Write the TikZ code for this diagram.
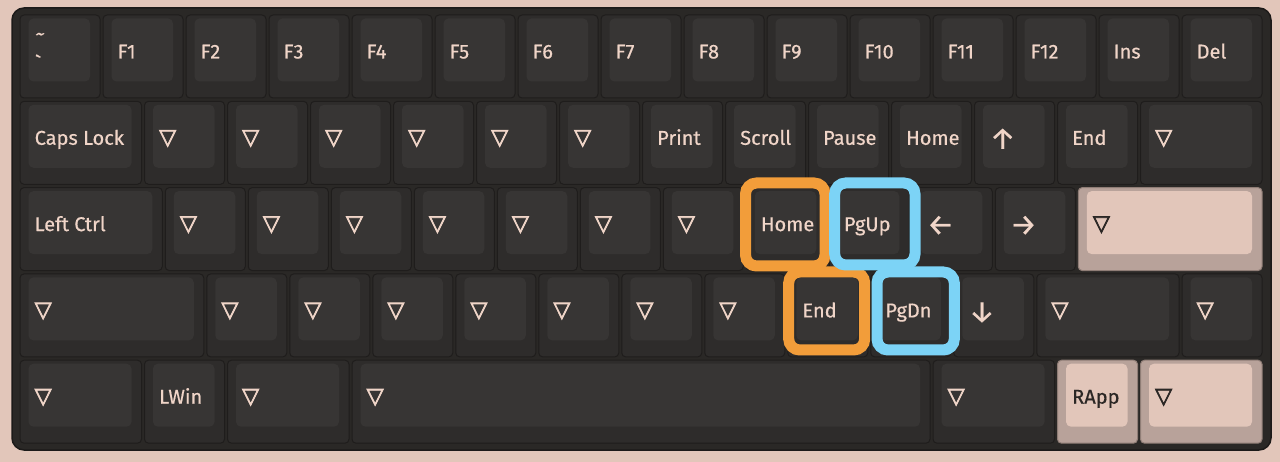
\documentclass[tikz,border=0pt]{standalone}
\usepackage{fontspec}
\setmainfont{Fira Sans}
\newfontfamily\keyfont{Fira Sans}[FakeBold=0.5]
\newfontfamily\symfont{DejaVu Sans}[FakeBold=3]
\definecolor{bg}{HTML}{E2C6BA}
\definecolor{casecol}{HTML}{2A2826}
\definecolor{caseline}{HTML}{1C1A19}
\definecolor{keyout}{HTML}{2E2C2B}
\definecolor{keyline}{HTML}{1F1D1C}
\definecolor{keyface}{HTML}{373534}
\definecolor{labl}{HTML}{F0D5C8}
\definecolor{pout}{HTML}{B8A29A}
\definecolor{pline}{HTML}{8F7D76}
\definecolor{pface}{HTML}{E2C6BA}
\definecolor{plab}{HTML}{2B2725}
\definecolor{ringo}{HTML}{F29D3A}
\definecolor{ringb}{HTML}{7CD3F6}
\tikzset{
  dkey/.style={rectangle, fill=keyout, draw=keyline, line width=1pt, rounded corners=4pt, inner sep=0pt, outer sep=0pt},
  pkey/.style={rectangle, fill=pout, draw=pline, line width=1pt, rounded corners=4pt, inner sep=0pt, outer sep=0pt},
  dface/.style={fill=keyface, rounded corners=5pt},
  pface/.style={fill=pface, rounded corners=5pt},
  dlab/.style={text=labl, font=\keyfont\fontsize{20}{22}\selectfont, inner sep=0pt, align=left},
  plab/.style={text=plab, font=\keyfont\fontsize{20}{22}\selectfont, inner sep=0pt, align=left},
  ring/.style={line width=11pt, rounded corners=11pt},
}
\newcommand\tri{\raisebox{0.5pt}{\symfont\fontsize{22}{22}\selectfont ▽}}
\newcommand\arr[1]{\raisebox{-4pt}{\fontsize{30}{30}\selectfont #1}}
% #1 style prefix (d/p), #2 name, #3 row, #4 start (units), #5 width (units), #6 label
\newcommand\mykey[6]{%
  \pgfmathsetmacro\kx{20+#4*83}%
  \pgfmathsetmacro\kw{#5*83-3}%
  \pgfmathsetmacro\ky{15+#3*86.3}%
  \node[#1key, minimum width=\kw pt, minimum height=83pt, anchor=north west] (#2) at (\kx,\ky) {};
  \path[#1face] ([xshift=8.5pt,yshift=-3.5pt]#2.north west) rectangle ([xshift=-10pt,yshift=16.5pt]#2.south east);
  \node[#1lab, anchor=base west] (#2-l) at ([xshift=14.5pt,yshift=-43.5pt]#2.north west) {#6};
}
\begin{document}
\begin{tikzpicture}[x=1pt,y=-1pt]
\useasboundingbox (0,0) rectangle (1280,462);
\fill[bg] (0,0) rectangle (1280,462);
\draw[fill=casecol, draw=caseline, line width=1.5pt, rounded corners=12pt] (12,8) rectangle (1271,450);
% row 0
\node[dkey, minimum width=80pt, minimum height=83pt, anchor=north west] (tilde) at (20,15) {};
\path[dface] ([xshift=8.5pt,yshift=-3.5pt]tilde.north west) rectangle ([xshift=-10pt,yshift=16.5pt]tilde.south east);
\node[dlab, anchor=base west, font=\keyfont\fontsize{20}{30}\selectfont] (tilde-l) at ([xshift=15pt,yshift=-55.5pt]tilde.north west) {\symbol{126}\\\symbol{96}};
\mykey{d}{f1}{0}{1}{1}{F1}
\mykey{d}{f2}{0}{2}{1}{F2}
\mykey{d}{f3}{0}{3}{1}{F3}
\mykey{d}{f4}{0}{4}{1}{F4}
\mykey{d}{f5}{0}{5}{1}{F5}
\mykey{d}{f6}{0}{6}{1}{F6}
\mykey{d}{f7}{0}{7}{1}{F7}
\mykey{d}{f8}{0}{8}{1}{F8}
\mykey{d}{f9}{0}{9}{1}{F9}
\mykey{d}{f10}{0}{10}{1}{F10}
\mykey{d}{f11}{0}{11}{1}{F11}
\mykey{d}{f12}{0}{12}{1}{F12}
\mykey{d}{ins}{0}{13}{1}{Ins}
\mykey{d}{del}{0}{14}{1}{Del}
% row 1
\mykey{d}{caps}{1}{0}{1.5}{Caps Lock}
\mykey{d}{ra}{1}{1.5}{1}{\tri}
\mykey{d}{rb}{1}{2.5}{1}{\tri}
\mykey{d}{rc}{1}{3.5}{1}{\tri}
\mykey{d}{rd}{1}{4.5}{1}{\tri}
\mykey{d}{re}{1}{5.5}{1}{\tri}
\mykey{d}{rf}{1}{6.5}{1}{\tri}
\mykey{d}{print}{1}{7.5}{1}{Print}
\mykey{d}{scroll}{1}{8.5}{1}{Scroll}
\mykey{d}{pause}{1}{9.5}{1}{Pause}
\mykey{d}{homea}{1}{10.5}{1}{Home}
\mykey{d}{up}{1}{11.5}{1}{\arr{↑}}
\mykey{d}{enda}{1}{12.5}{1}{End}
\mykey{d}{rg}{1}{13.5}{1.5}{\tri}
% row 2
\mykey{d}{lctrl}{2}{0}{1.75}{Left Ctrl}
\mykey{d}{sa}{2}{1.75}{1}{\tri}
\mykey{d}{sb}{2}{2.75}{1}{\tri}
\mykey{d}{sc}{2}{3.75}{1}{\tri}
\mykey{d}{sd}{2}{4.75}{1}{\tri}
\mykey{d}{se}{2}{5.75}{1}{\tri}
\mykey{d}{sf}{2}{6.75}{1}{\tri}
\mykey{d}{sg}{2}{7.75}{1}{\tri}
\mykey{d}{home}{2}{8.75}{1}{Home}
\mykey{d}{pgup}{2}{9.75}{1}{PgUp}
\mykey{d}{left}{2}{10.75}{1}{\arr{←}}
\mykey{d}{right}{2}{11.75}{1}{\arr{→}}
\mykey{p}{sh}{2}{12.75}{2.25}{\tri}
% row 3
\mykey{d}{ta}{3}{0}{2.25}{\tri}
\mykey{d}{tb}{3}{2.25}{1}{\tri}
\mykey{d}{tc}{3}{3.25}{1}{\tri}
\mykey{d}{td}{3}{4.25}{1}{\tri}
\mykey{d}{te}{3}{5.25}{1}{\tri}
\mykey{d}{tf}{3}{6.25}{1}{\tri}
\mykey{d}{tg}{3}{7.25}{1}{\tri}
\mykey{d}{th}{3}{8.25}{1}{\tri}
\mykey{d}{end}{3}{9.25}{1}{End}
\mykey{d}{pgdn}{3}{10.25}{1}{PgDn}
\mykey{d}{down}{3}{11.25}{1}{\arr{↓}}
\mykey{d}{ti}{3}{12.25}{1.75}{\tri}
\mykey{d}{tj}{3}{14}{1}{\tri}
% row 4
\mykey{d}{ua}{4}{0}{1.5}{\tri}
\mykey{d}{lwin}{4}{1.5}{1}{LWin}
\mykey{d}{ub}{4}{2.5}{1.5}{\tri}
\mykey{d}{space}{4}{4}{7}{\tri}
\mykey{d}{uc}{4}{11}{1.5}{\tri}
\mykey{p}{rapp}{4}{12.5}{1}{RApp}
\mykey{p}{ud}{4}{13.5}{1.5}{\tri}
% highlight rings
\draw[ring, ringo] (745.5,183) rectangle (825,266);
\draw[ring, ringo] (788.7,272) rectangle (864.7,350);
\draw[ring, ringb] (834.7,183) rectangle (915,265);
\draw[ring, ringb] (877,272) rectangle (954.3,350);
\end{tikzpicture}
\end{document}
